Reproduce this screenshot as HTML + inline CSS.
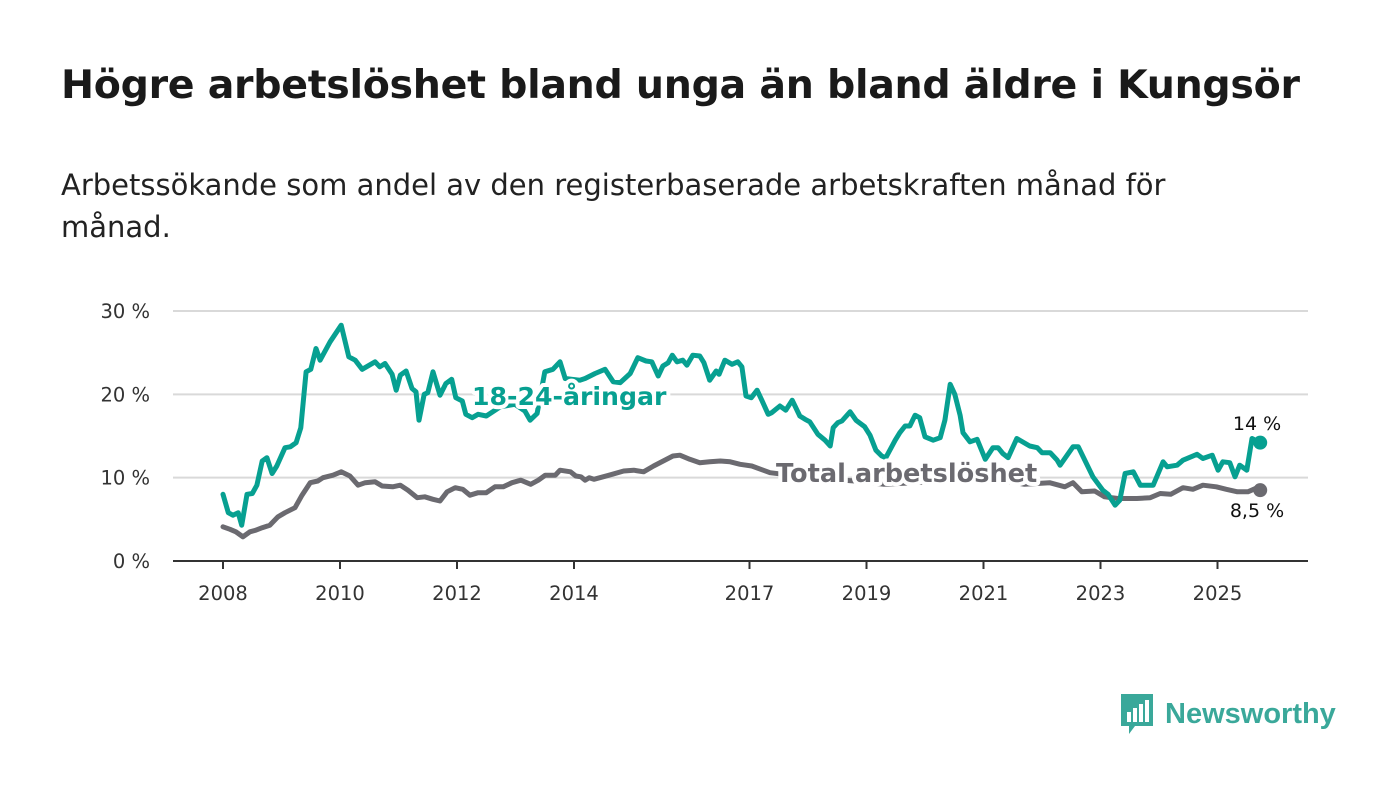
<!DOCTYPE html>
<html><head><meta charset="utf-8"><style>
body{margin:0;background:#fff;width:1400px;height:794px;overflow:hidden;font-family:"DejaVu Sans","Liberation Sans",sans-serif}
h1{position:absolute;left:61px;top:62px;margin:0;font-size:39.5px;font-weight:bold;color:#1a1a1a;letter-spacing:-0.3px;white-space:nowrap}
.sub{position:absolute;left:61px;top:164px;margin:0;font-size:29px;line-height:42px;color:#222;width:1320px;white-space:nowrap}
svg{position:absolute;left:0;top:0}
</style></head><body>
<h1>Högre arbetslöshet bland unga än bland äldre i Kungsör</h1>
<p class="sub">Arbetssökande som andel av den registerbaserade arbetskraften månad för<br>månad.</p>
<svg id="chart" width="1400" height="794"></svg>
<script>
const youthYears=[2008.00,2008.09,2008.17,2008.26,2008.32,2008.41,2008.50,2008.58,2008.67,2008.75,2008.84,2008.92,2009.06,2009.15,2009.25,2009.33,2009.42,2009.50,2009.59,2009.66,2009.83,2010.02,2010.15,2010.26,2010.38,2010.60,2010.68,2010.77,2010.89,2010.96,2011.03,2011.13,2011.23,2011.30,2011.35,2011.44,2011.50,2011.59,2011.71,2011.81,2011.91,2011.98,2012.09,2012.15,2012.26,2012.36,2012.50,2012.74,2012.99,2013.16,2013.25,2013.37,2013.50,2013.64,2013.76,2013.85,2013.97,2014.10,2014.19,2014.36,2014.53,2014.67,2014.79,2014.96,2015.09,2015.23,2015.33,2015.44,2015.52,2015.61,2015.68,2015.76,2015.86,2015.93,2016.03,2016.15,2016.22,2016.32,2016.43,2016.48,2016.58,2016.70,2016.80,2016.87,2016.94,2017.03,2017.13,2017.21,2017.32,2017.38,2017.52,2017.62,2017.73,2017.86,2017.95,2018.03,2018.17,2018.29,2018.38,2018.43,2018.51,2018.58,2018.72,2018.82,2018.97,2019.06,2019.16,2019.26,2019.33,2019.49,2019.57,2019.66,2019.74,2019.83,2019.91,2020.00,2020.14,2020.26,2020.34,2020.43,2020.51,2020.60,2020.65,2020.77,2020.89,2021.03,2021.16,2021.25,2021.33,2021.42,2021.57,2021.79,2021.92,2022.00,2022.14,2022.26,2022.31,2022.53,2022.62,2022.87,2023.04,2023.13,2023.25,2023.33,2023.42,2023.56,2023.68,2023.90,2024.07,2024.14,2024.31,2024.41,2024.65,2024.75,2024.91,2025.01,2025.09,2025.21,2025.30,2025.38,2025.50,2025.59,2025.73];
const youthValues=[8.0,5.8,5.5,5.8,4.3,8.0,8.1,9.1,12.0,12.4,10.5,11.4,13.6,13.7,14.2,16.0,22.7,23.0,25.5,24.1,26.3,28.3,24.5,24.1,23.0,23.9,23.3,23.7,22.4,20.5,22.3,22.8,20.7,20.3,16.9,20.0,20.2,22.7,19.9,21.3,21.8,19.6,19.2,17.6,17.2,17.6,17.4,18.5,18.8,18.0,16.9,17.7,22.7,23.0,23.9,21.9,21.8,21.7,21.9,22.5,23.0,21.5,21.4,22.5,24.4,24.0,23.9,22.2,23.4,23.8,24.7,23.9,24.1,23.5,24.7,24.6,23.8,21.7,22.8,22.4,24.1,23.6,23.9,23.3,19.8,19.6,20.5,19.3,17.6,17.8,18.6,18.1,19.3,17.4,17.0,16.7,15.2,14.5,13.8,16.0,16.6,16.8,17.9,16.9,16.1,15.1,13.3,12.6,12.4,14.5,15.4,16.2,16.2,17.5,17.2,14.9,14.5,14.8,16.9,21.2,20.0,17.5,15.4,14.3,14.6,12.2,13.6,13.6,12.9,12.4,14.7,13.8,13.6,13.0,13.0,12.1,11.5,13.7,13.7,10.1,8.5,8.0,6.7,7.3,10.5,10.7,9.1,9.1,11.9,11.3,11.5,12.1,12.8,12.3,12.7,10.9,11.9,11.8,10.1,11.5,10.9,14.7,14.2];
const totalYears=[2008.00,2008.12,2008.22,2008.34,2008.46,2008.56,2008.67,2008.80,2008.94,2009.06,2009.23,2009.35,2009.49,2009.62,2009.71,2009.88,2010.02,2010.17,2010.31,2010.43,2010.60,2010.72,2010.90,2011.03,2011.16,2011.32,2011.45,2011.59,2011.71,2011.83,2011.97,2012.10,2012.22,2012.36,2012.50,2012.65,2012.79,2012.94,2013.09,2013.26,2013.39,2013.51,2013.68,2013.76,2013.94,2014.03,2014.12,2014.19,2014.26,2014.34,2014.60,2014.85,2015.02,2015.19,2015.36,2015.69,2015.81,2015.98,2016.15,2016.32,2016.50,2016.67,2016.84,2017.04,2017.35,2017.70,2018.20,2018.80,2019.30,2019.80,2020.30,2020.70,2021.20,2021.70,2022.13,2022.39,2022.53,2022.68,2022.90,2023.07,2023.30,2023.62,2023.85,2024.02,2024.20,2024.41,2024.58,2024.75,2024.98,2025.15,2025.34,2025.52,2025.68,2025.73];
const totalValues=[4.1,3.8,3.5,2.9,3.5,3.7,4.0,4.3,5.3,5.8,6.4,7.9,9.4,9.6,10.0,10.3,10.7,10.2,9.1,9.4,9.5,9.0,8.9,9.1,8.5,7.6,7.7,7.4,7.2,8.3,8.8,8.6,7.9,8.2,8.2,8.9,8.9,9.4,9.7,9.2,9.7,10.3,10.3,10.9,10.7,10.2,10.1,9.7,10.0,9.8,10.3,10.8,10.9,10.7,11.4,12.6,12.7,12.2,11.8,11.9,12.0,11.9,11.6,11.4,10.6,10.3,9.9,9.6,9.2,9.4,9.6,10.4,9.8,9.2,9.4,8.9,9.4,8.3,8.4,7.7,7.5,7.5,7.6,8.1,8.0,8.8,8.6,9.1,8.9,8.6,8.3,8.3,8.8,8.5];
const yTicks=[0,10,20,30];
const yTickLabels=["0 %","10 %","20 %","30 %"];
const xTicks=[2008,2010,2012,2014,2017,2019,2021,2023,2025];
const endLabels=["14 %","8,5 %"];

const NS="http://www.w3.org/2000/svg";
const svg=document.getElementById('chart');
const X=y=>223+(y-2008)*58.5;
const Y=v=>561-v*8.333;
function el(tag,attrs,parent){const e=document.createElementNS(NS,tag);for(const k in attrs)e.setAttribute(k,attrs[k]);(parent||svg).appendChild(e);return e;}
yTicks.forEach((t,i)=>{
  if(t>0){const g=el('line',{x1:173,x2:1308,y1:Y(t),y2:Y(t),stroke:'#d9d9d9','stroke-width':2});
  
  }
  const tx=el('text',{x:150,y:Y(t)+7,'text-anchor':'end','font-size':19.5,fill:'#333'});
  tx.textContent=yTickLabels[i];
  
  
});
const ax=el('line',{x1:173,x2:1308,y1:561,y2:561,stroke:'#333','stroke-width':2});


xTicks.forEach(t=>{
  const tk=el('line',{x1:X(t),x2:X(t),y1:561,y2:569,stroke:'#333','stroke-width':2});
  
  
  const tx=el('text',{x:X(t),y:600,'text-anchor':'middle','font-size':19.5,fill:'#333'});
  tx.textContent=t;
  
  
});
function line(xs,vs,color,name){
  const d=xs.map((x,i)=>(i?'L':'M')+X(x).toFixed(1)+' '+Y(vs[i]).toFixed(1)).join(' ');
  const p=el('path',{d:d,fill:'none',stroke:color,'stroke-width':5,'stroke-linejoin':'round','stroke-linecap':'round'});
  
  
  const n=xs.length-1;
  const c=el('circle',{cx:X(xs[n]),cy:Y(vs[n]),r:7,fill:color});
  
  
}
line(totalYears,totalValues,'#6b6a70','total-line');
line(youthYears,youthValues,'#07a091','youth-line');
function lbl(x,y,txt,color,name,fs){
  const t=el('text',{x:x,y:y,'font-size':fs,'font-weight':'bold',fill:color,stroke:'#fff','stroke-width':8,'paint-order':'stroke','stroke-linejoin':'round'});
  t.textContent=txt;
  
  
}
lbl(472,405,'18-24-åringar','#07a091','youth-series-label',25.2);
lbl(776,482,'Total arbetslöshet','#6b6a70','total-series-label',25.6);
const e1=el('text',{x:1257,y:430,'text-anchor':'middle','font-size':19,fill:'#111'});
e1.textContent=endLabels[0];


const e2=el('text',{x:1257,y:517,'text-anchor':'middle','font-size':19,fill:'#111'});
e2.textContent=endLabels[1];


</script>
<div style="position:absolute;left:1119px;top:692px;height:44px;display:flex;align-items:center;font-family:'Liberation Sans',sans-serif">
  <svg width="36" height="44" style="position:static">
    <path d="M2 2h32v32H16l-6 8v-8H2z" fill="#3aa89a"/>
    <rect x="8" y="20" width="4" height="10" fill="#fff"/><rect x="14" y="16" width="4" height="14" fill="#fff"/><rect x="20" y="12" width="4" height="18" fill="#fff"/><rect x="26" y="8" width="4" height="22" fill="#fff"/>
  </svg>
  <span style="margin-left:10px;font-size:29px;font-weight:bold;color:#3aa89a">Newsworthy</span>
</div>
</body></html>
